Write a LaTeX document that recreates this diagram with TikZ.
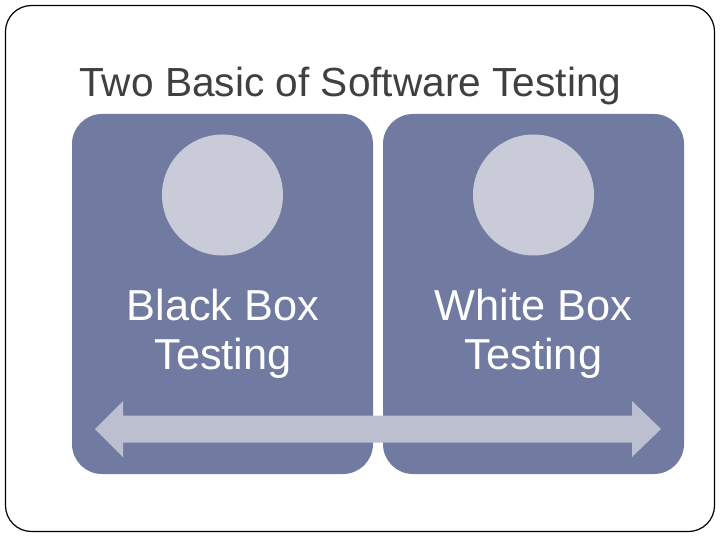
\documentclass[tikz,border=0pt]{standalone}
\usepackage{fontspec}
\setmainfont{Liberation Sans}
\definecolor{boxblue}{HTML}{717BA1}
\definecolor{circlegray}{HTML}{C9CBD9}
\definecolor{arrowgray}{HTML}{BBBFCF}
\definecolor{titlegray}{HTML}{404040}
\tikzset{
  panel/.style={fill=boxblue, draw=none, rounded corners=30bp},
  disc/.style={circle, fill=circlegray, draw=none, minimum size=121bp, inner sep=0pt},
  paneltext/.style={text=white, font=\fontsize{43.5}{49}\selectfont, align=center},
}
\begin{document}
\begin{tikzpicture}[x=1bp,y=-1bp]
\useasboundingbox (0,0) rectangle (720,540);
\fill[white] (0,0) rectangle (720,540);
% frame
\draw[black, line width=1.2bp, rounded corners=26bp] (5.5,5.5) rectangle (714.5,531.5);
% title
\node[anchor=base west, text=titlegray, font=\fontsize{40.8}{48}\selectfont, inner sep=0pt] (title) at (79,97) {Two Basic of Software Testing};
% panels
\fill[panel] (72,114) rectangle (373,474);
\fill[panel] (383,114) rectangle (684,474);
% circles
\node[disc] (c1) at (222.5,195) {};
\node[disc] (c2) at (533.5,195) {};
% texts (base anchor = baseline of last line)
\node[paneltext, anchor=base] (t1) at (223,369.5) {Black Box\\Testing};
\node[paneltext, anchor=base] (t2) at (533.5,369.5) {White Box\\Testing};
% double arrow
\fill[arrowgray] (95,429) -- (123,401) -- (123,415.5) -- (632,415.5) -- (632,401) -- (661,429) -- (632,457) -- (632,442.5) -- (123,442.5) -- (123,457) -- cycle;
\end{tikzpicture}
\end{document}
